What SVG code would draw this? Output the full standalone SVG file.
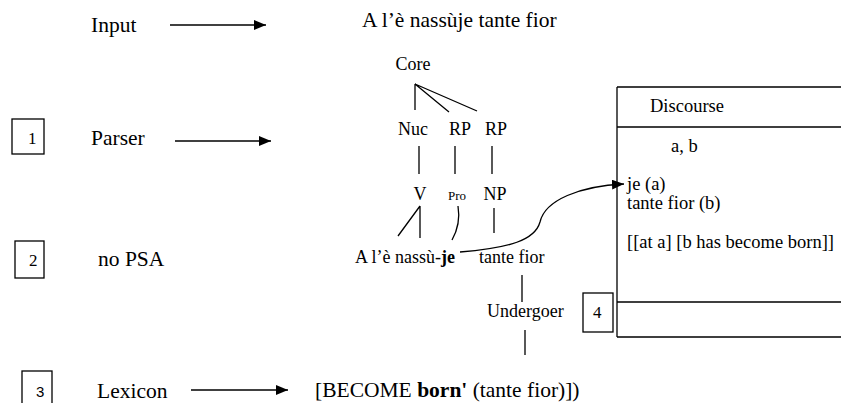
<svg xmlns="http://www.w3.org/2000/svg" width="841" height="403" viewBox="0 0 841 403">
<style>
text{font-family:"Liberation Serif","Times New Roman",serif;fill:#000}
.lg{font-size:21.5px}
.md{font-size:18px}
.bx{font-size:18.5px}
.sm{font-size:13px}
.num{font-size:17px}
.b{font-weight:bold}
.ln{stroke:#000;stroke-width:1.3;fill:none}
.box{stroke:#000;stroke-width:1.3;fill:#fff}
</style>
<defs>
<marker id="ah" markerWidth="12" markerHeight="10" refX="12" refY="5" orient="auto" markerUnits="userSpaceOnUse">
<path d="M0,0 L12,5 L0,10 Z" fill="#000"/>
</marker>
</defs>
<g id="steps">
<g id="input"><text class="lg" x="91" y="32">Input</text></g>
<g id="step1"><rect class="box" x="12" y="119" width="32" height="35"/><text class="num" x="28" y="144">1</text><text class="lg" x="91" y="145">Parser</text></g>
<g id="step2"><rect class="box" x="15" y="241" width="29" height="37"/><text class="num" x="29" y="266">2</text><text class="lg" x="98" y="266">no PSA</text></g>
<g id="step3"><rect class="box" x="22" y="371" width="30" height="40"/><text x="36" y="397" style="font-family:'Liberation Sans',Arial,sans-serif;font-size:15px">3</text><text class="lg" x="97" y="398">Lexicon</text></g>
</g>
<g id="sentence"><text class="lg" x="362" y="27">A l’è nassùje tante fior</text></g>
<g id="tree">
<text class="md" x="413" y="70" text-anchor="middle">Core</text>
<text class="md" x="413" y="135" text-anchor="middle">Nuc</text>
<text class="md" x="460" y="135" text-anchor="middle">RP</text>
<text class="md" x="496" y="135" text-anchor="middle">RP</text>
<text class="md" x="420" y="200" text-anchor="middle">V</text>
<text class="sm" x="457" y="200" text-anchor="middle">Pro</text>
<text class="md" x="495" y="200" text-anchor="middle">NP</text>
<text class="md" x="355" y="263">A l’è nassù-<tspan class="b">je</tspan></text>
<text class="md" x="479" y="263">tante fior</text>
<text class="md" x="487" y="317">Undergoer</text>
</g>
<g id="lexicon"><text class="lg" x="315" y="397">[BECOME <tspan class="b">born'</tspan> (tante fior)])</text></g>
<g id="discourse">
<path class="ln" d="M617,87 H860 M617,127 H860 M617,302 H860 M617,337 H860 M617,87 V337"/>
<text class="bx" x="650" y="112">Discourse</text>
<text class="bx" x="671" y="152">a, b</text>
<text class="bx" x="627" y="190">je (a)</text>
<text class="bx" x="627" y="209">tante fior (b)</text>
<text class="bx" x="627" y="248">[[at a] [b has become born]]</text>
</g>
<g id="box4"><rect class="box" x="583" y="293" width="30" height="39"/><text class="num" x="593" y="318">4</text></g>
<g id="connectors">
<line class="ln" x1="170" y1="25" x2="266" y2="25" marker-end="url(#ah)"/>
<line class="ln" x1="175" y1="141" x2="271" y2="141" marker-end="url(#ah)"/>
<line class="ln" x1="191" y1="390" x2="288" y2="390" marker-end="url(#ah)"/>
<path class="ln" d="M415,84 L415,110 M415,84 L449,112 M415,84 L477,111"/>
<path class="ln" d="M419,146 V174 M455,146 V174 M492,146 V174"/>
<path class="ln" d="M420,206 L398,236 M420,206 L420,238"/>
<path class="ln" d="M458,206 Q461,224 452,240"/>
<path class="ln" d="M494,208 V233"/>
<path class="ln" d="M522,275 V302 M525,330 V355"/>
<path class="ln" d="M460,252 C510,248 535,240 540,222 C545,200 580,186 624,184" marker-end="url(#ah)"/>
</g>
</svg>
